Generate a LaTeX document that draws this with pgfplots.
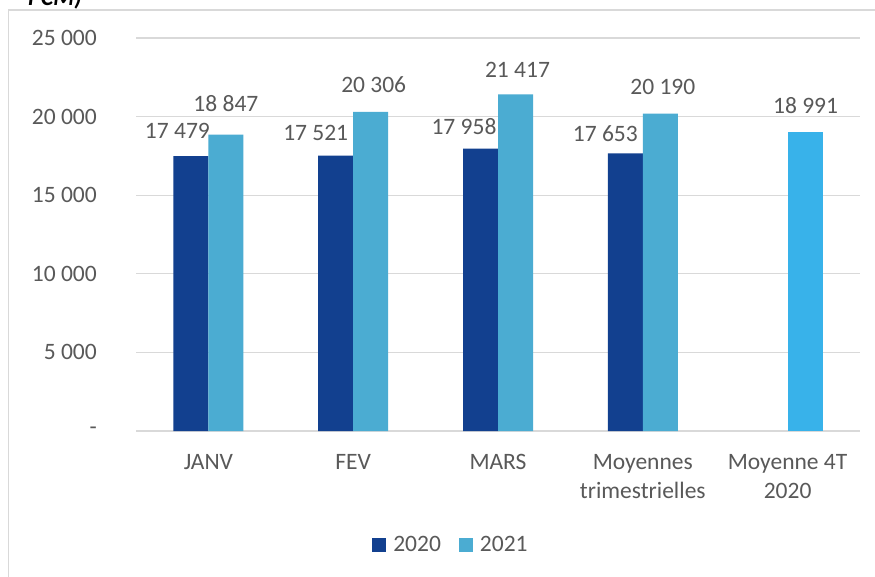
\documentclass[border=0pt]{standalone}
\usepackage{pgfplots}
\pgfplotsset{compat=1.18}
\usepackage{pgfplotstable}
\usepackage{fontspec}
\setmainfont{Carlito}
\definecolor{cA}{HTML}{12408F}
\definecolor{cB}{HTML}{4BACD2}
\definecolor{cC}{HTML}{38B2EA}
\definecolor{txt}{HTML}{595959}
\definecolor{grd}{HTML}{D9D9D9}
\newcommand{\chartfont}{\fontsize{23.5}{29}\selectfont}

% dx includes the bar offset (-17.5 / +17.5)
\pgfplotstableread[col sep=comma]{
x,y,dx,dy,label
0,17479,-31,18,17 479
1,17521,-37.5,15,17 521
2,17958,-34,14,17 958
3,17653,-37.5,12,17 653
}\dataA
\pgfplotstableread[col sep=comma]{
x,y,dx,dy,label
0,18847,17.5,23,18 847
1,20306,20.5,19,20 306
2,21417,19.5,17,21 417
3,20190,20,19,20 190
}\dataB
\pgfplotstableread[col sep=comma]{
x,y,dx,dy,label
4,18991,18,19,18 991
}\dataC

\begin{document}
\begin{tikzpicture}[x=1pt,y=1pt]
\useasboundingbox (0,0) rectangle (875,576);
\clip (0,0) rectangle (875,576);
\fill[white] (0,0) rectangle (875,576);
\draw[grd, line width=1.5pt] (8.5,566) rectangle (900,-20);
\node[anchor=base east, inner sep=0, font=\fontsize{24}{28}\selectfont\bfseries\itshape, text=black] at (82,570) {PCM)};
\begin{axis}[
  at={(136pt,145pt)}, anchor=south west,
  scale only axis, width=724pt, height=393pt,
  xmin=-0.5, xmax=4.5, ymin=0, ymax=25000,
  scaled y ticks=false,
  xtick={0,1,2,3,4},
  xticklabels={JANV, FEV, MARS, {Moyennes\\trimestrielles}, {Moyenne 4T\\2020}},
  ytick={0,5000,10000,15000,20000,25000},
  yticklabels={-\hspace{11pt}, 5 000, 10 000, 15 000, 20 000, 25 000},
  xticklabel style={align=center, anchor=north, inner sep=0pt, yshift=-23pt, font=\chartfont, text=txt},
  yticklabel style={anchor=east, inner sep=0pt, xshift=-39pt, font=\chartfont, text=txt},
  major tick length=0pt,
  tick style={draw=none},
  axis line style={draw=none},
  ymajorgrids, grid style={grd, line width=1.2pt},
  clip=false,
  legend style={at={(0.435,-0.29)}, anchor=center, draw=none, fill=none,
    font=\chartfont, text=txt, legend columns=2,
    /tikz/every odd column/.append style={column sep=5pt},
    /tikz/every even column/.append style={column sep=16pt}},
  legend image code/.code={\fill[#1] (0pt,-7pt) rectangle (14pt,7pt);},
  nodes near coords,
  point meta=explicit symbolic,
  visualization depends on={\thisrow{dx}\as\dx},
  visualization depends on={\thisrow{dy}\as\dy},
  nodes near coords style={anchor=base, inner sep=0pt, font=\chartfont, text=txt, xshift=\dx pt, yshift=\dy pt},
]
\addplot[ybar, bar width=35pt, bar shift=-17.5pt, fill=cA, draw=none] table[x=x, y=y, meta=label] {\dataA};
\addlegendentry{2020}
\addplot[ybar, bar width=35pt, bar shift=17.5pt, fill=cB, draw=none] table[x=x, y=y, meta=label] {\dataB};
\addlegendentry{2021}
\addplot[ybar, bar width=35pt, bar shift=17.5pt, fill=cC, draw=none, forget plot] table[x=x, y=y, meta=label] {\dataC};
\end{axis}
\end{tikzpicture}
\end{document}
